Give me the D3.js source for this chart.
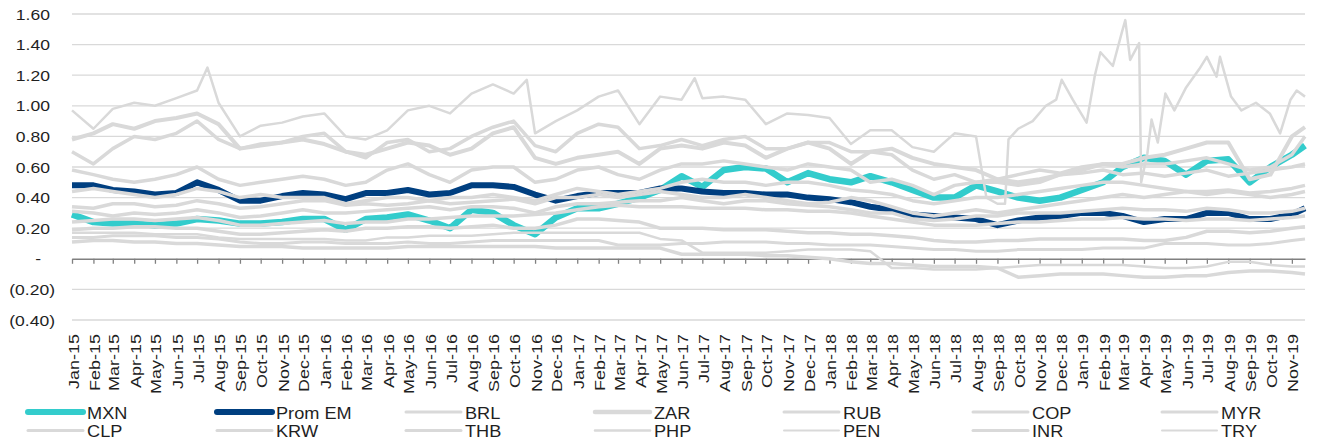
<!DOCTYPE html>
<html>
<head>
<meta charset="utf-8">
<script src="https://cdn.jsdelivr.net/npm/d3@7"></script>
<style>
  body { margin: 0; background: #fff; }
  svg { display: block; }
  text { font-family: "Liberation Sans", Arial, sans-serif; fill: #1f1f1f; }
</style>
</head>
<body>
<div id="chart"></div>
<script>
// month points (first of each month) + last observation
var months = [
  "2015-01-01","2015-02-01","2015-03-01","2015-04-01","2015-05-01","2015-06-01","2015-07-01","2015-08-01","2015-09-01","2015-10-01","2015-11-01","2015-12-01",
  "2016-01-01","2016-02-01","2016-03-01","2016-04-01","2016-05-01","2016-06-01","2016-07-01","2016-08-01","2016-09-01","2016-10-01","2016-11-01","2016-12-01",
  "2017-01-01","2017-02-01","2017-03-01","2017-04-01","2017-05-01","2017-06-01","2017-07-01","2017-08-01","2017-09-01","2017-10-01","2017-11-01","2017-12-01",
  "2018-01-01","2018-02-01","2018-03-01","2018-04-01","2018-05-01","2018-06-01","2018-07-01","2018-08-01","2018-09-01","2018-10-01","2018-11-01","2018-12-01",
  "2019-01-01","2019-02-01","2019-03-01","2019-04-01","2019-05-01","2019-06-01","2019-07-01","2019-08-01","2019-09-01","2019-10-01","2019-11-01","2019-11-20"
];

var mxn = [
  0.29,0.24,0.23,0.23,0.22,0.23,0.26,0.25,0.23,0.23,0.24,0.26,
  0.26,0.19,0.26,0.27,0.29,0.25,0.20,0.32,0.30,0.22,0.16,0.27,
  0.33,0.33,0.36,0.40,0.45,0.54,0.47,0.58,0.60,0.59,0.50,0.56,
  0.52,0.50,0.54,0.50,0.45,0.40,0.40,0.48,0.44,0.40,0.38,0.40,
  0.45,0.50,0.60,0.66,0.64,0.55,0.64,0.65,0.50,0.60,0.68,0.74
];
var promEM = [
  0.48,0.48,0.45,0.44,0.42,0.43,0.50,0.45,0.38,0.38,0.41,0.43,
  0.42,0.39,0.43,0.43,0.45,0.42,0.43,0.48,0.48,0.47,0.42,0.38,
  0.41,0.43,0.43,0.43,0.46,0.46,0.44,0.43,0.43,0.42,0.42,0.40,
  0.39,0.37,0.34,0.32,0.29,0.28,0.27,0.26,0.22,0.25,0.27,0.28,
  0.30,0.30,0.28,0.24,0.26,0.26,0.30,0.30,0.26,0.26,0.29,0.33
];
var brl = [
  0.58,0.55,0.52,0.50,0.52,0.55,0.60,0.52,0.48,0.50,0.52,0.54,
  0.52,0.48,0.50,0.58,0.62,0.55,0.50,0.58,0.60,0.60,0.50,0.52,
  0.58,0.60,0.55,0.52,0.58,0.62,0.62,0.64,0.62,0.60,0.58,0.62,
  0.60,0.58,0.50,0.52,0.48,0.42,0.48,0.50,0.50,0.48,0.50,0.55,
  0.56,0.58,0.55,0.56,0.54,0.56,0.58,0.54,0.56,0.58,0.60,0.62
];
var zar = [
  0.78,0.82,0.88,0.85,0.90,0.92,0.95,0.88,0.72,0.74,0.76,0.78,
  0.75,0.70,0.68,0.72,0.76,0.74,0.68,0.72,0.82,0.86,0.66,0.62,
  0.66,0.68,0.70,0.62,0.72,0.74,0.72,0.76,0.74,0.66,0.72,0.76,
  0.72,0.62,0.70,0.72,0.66,0.62,0.60,0.58,0.52,0.50,0.52,0.55,
  0.58,0.62,0.62,0.66,0.68,0.72,0.76,0.76,0.52,0.55,0.80,0.86
];
var rub = [
  0.70,0.62,0.72,0.80,0.78,0.82,0.90,0.78,0.72,0.75,0.76,0.80,
  0.82,0.70,0.66,0.76,0.78,0.70,0.72,0.80,0.86,0.90,0.74,0.70,
  0.82,0.88,0.86,0.72,0.74,0.78,0.74,0.78,0.80,0.72,0.72,0.76,
  0.76,0.70,0.70,0.68,0.58,0.52,0.55,0.50,0.52,0.55,0.58,0.56,
  0.60,0.62,0.60,0.62,0.62,0.64,0.66,0.62,0.58,0.60,0.68,0.80
];
var cop = [
  0.44,0.46,0.44,0.42,0.40,0.42,0.46,0.44,0.40,0.42,0.40,0.40,
  0.40,0.36,0.38,0.40,0.40,0.38,0.40,0.40,0.42,0.40,0.38,0.42,
  0.46,0.44,0.42,0.44,0.46,0.50,0.52,0.50,0.50,0.48,0.50,0.50,
  0.48,0.45,0.44,0.42,0.38,0.36,0.38,0.40,0.40,0.42,0.44,0.46,
  0.48,0.50,0.50,0.48,0.46,0.44,0.44,0.45,0.43,0.44,0.46,0.48
];
var myr = [
  0.31,0.30,0.28,0.30,0.29,0.30,0.32,0.30,0.27,0.28,0.30,0.32,
  0.30,0.30,0.31,0.32,0.33,0.34,0.32,0.34,0.34,0.33,0.30,0.34,
  0.36,0.36,0.37,0.38,0.38,0.40,0.38,0.36,0.38,0.38,0.36,0.35,
  0.34,0.32,0.30,0.30,0.26,0.25,0.26,0.28,0.28,0.30,0.30,0.30,
  0.31,0.32,0.33,0.32,0.32,0.31,0.33,0.32,0.30,0.30,0.31,0.33
];
var clp = [
  0.34,0.33,0.36,0.36,0.34,0.35,0.38,0.36,0.33,0.34,0.36,0.38,
  0.38,0.35,0.36,0.35,0.36,0.38,0.36,0.37,0.38,0.39,0.36,0.40,
  0.40,0.42,0.40,0.42,0.44,0.42,0.40,0.40,0.42,0.40,0.38,0.36,
  0.37,0.40,0.38,0.34,0.30,0.28,0.30,0.32,0.30,0.32,0.34,0.36,
  0.38,0.40,0.42,0.40,0.42,0.44,0.42,0.44,0.42,0.40,0.42,0.44
];
var krw = [
  0.24,0.25,0.26,0.26,0.25,0.26,0.27,0.25,0.22,0.22,0.23,0.24,
  0.25,0.23,0.24,0.24,0.26,0.26,0.27,0.28,0.28,0.28,0.29,0.30,
  0.32,0.34,0.35,0.34,0.34,0.34,0.33,0.33,0.33,0.32,0.32,0.31,
  0.31,0.30,0.28,0.26,0.24,0.22,0.22,0.22,0.23,0.24,0.24,0.25,
  0.26,0.26,0.27,0.26,0.26,0.25,0.26,0.26,0.25,0.26,0.27,0.28
];
var thb = [
  0.19,0.20,0.20,0.21,0.21,0.20,0.20,0.18,0.16,0.16,0.17,0.18,
  0.19,0.18,0.20,0.20,0.21,0.21,0.20,0.21,0.22,0.20,0.20,0.22,
  0.26,0.26,0.25,0.24,0.20,0.20,0.20,0.19,0.19,0.19,0.18,0.17,
  0.17,0.16,0.16,0.15,0.14,0.12,0.11,0.11,0.12,0.12,0.13,0.13,
  0.13,0.13,0.13,0.12,0.12,0.14,0.18,0.18,0.17,0.18,0.20,0.21
];
var php = [
  0.14,0.14,0.15,0.15,0.15,0.14,0.14,0.13,0.11,0.10,0.10,0.11,
  0.11,0.10,0.10,0.10,0.11,0.10,0.10,0.11,0.12,0.12,0.12,0.12,
  0.12,0.12,0.09,0.09,0.09,0.10,0.10,0.11,0.11,0.11,0.10,0.10,
  0.09,0.09,0.09,0.08,0.07,0.06,0.06,0.05,0.05,0.06,0.06,0.06,
  0.06,0.07,0.07,0.07,0.10,0.10,0.10,0.09,0.09,0.10,0.12,0.13
];
var pen = [
  0.17,0.17,0.17,0.17,0.16,0.16,0.16,0.14,0.13,0.13,0.13,0.13,
  0.13,0.12,0.12,0.14,0.14,0.15,0.15,0.15,0.16,0.17,0.17,0.17,
  0.17,0.17,0.17,0.17,0.13,0.12,0.04,0.04,0.04,0.04,0.05,0.06,
  0.06,0.06,0.05,-0.06,-0.06,-0.07,-0.07,-0.07,-0.06,-0.05,-0.04,-0.04,
  -0.04,-0.04,-0.04,-0.05,-0.06,-0.06,-0.05,-0.02,-0.02,-0.04,-0.05,-0.05
];
var inr = [
  0.11,0.12,0.12,0.11,0.11,0.10,0.10,0.09,0.08,0.08,0.08,0.07,
  0.07,0.07,0.07,0.07,0.08,0.08,0.08,0.08,0.08,0.08,0.08,0.07,
  0.07,0.07,0.07,0.07,0.07,0.03,0.03,0.03,0.03,0.02,0.02,0.01,
  0.00,-0.02,-0.03,-0.03,-0.04,-0.05,-0.05,-0.05,-0.06,-0.12,-0.11,-0.10,
  -0.10,-0.10,-0.11,-0.12,-0.12,-0.11,-0.11,-0.09,-0.08,-0.08,-0.09,-0.10
];

// TRY has its own, denser set of reading dates
var tryDates = [
  "2015-01-01","2015-02-01","2015-03-01","2015-04-01","2015-05-01","2015-06-01","2015-07-01","2015-07-16","2015-08-01","2015-09-01","2015-10-01","2015-11-01","2015-12-01",
  "2016-01-01","2016-02-01","2016-03-01","2016-04-01","2016-05-01","2016-06-01","2016-07-01","2016-08-01","2016-09-01","2016-10-01","2016-10-20","2016-11-01","2016-12-01",
  "2017-01-01","2017-02-01","2017-03-01","2017-04-01","2017-05-01","2017-06-01","2017-06-20","2017-07-01","2017-08-01","2017-09-01","2017-10-01","2017-11-01","2017-12-01",
  "2018-01-01","2018-02-01","2018-03-01","2018-04-01","2018-05-01","2018-06-01","2018-07-01","2018-08-01","2018-08-16","2018-09-01","2018-09-12","2018-09-17",
  "2018-10-01","2018-10-22","2018-11-10","2018-11-25","2018-12-03","2018-12-19",
  "2019-01-08","2019-01-20","2019-01-28","2019-02-15","2019-02-28","2019-03-05","2019-03-12","2019-03-25","2019-03-28",
  "2019-04-06","2019-04-12","2019-04-21","2019-05-02","2019-05-15","2019-06-01","2019-06-20","2019-07-01","2019-07-15","2019-07-20",
  "2019-08-05","2019-08-20","2019-09-10","2019-09-30","2019-10-15","2019-10-30","2019-11-08","2019-11-20"
];
var tryValues = [
  0.97,0.85,0.98,1.02,1.00,1.05,1.10,1.25,1.02,0.80,0.87,0.89,0.93,
  0.95,0.80,0.78,0.84,0.97,1.00,0.95,1.08,1.14,1.08,1.17,0.82,0.90,
  0.97,1.06,1.10,0.88,1.06,1.04,1.18,1.05,1.06,1.04,0.88,0.95,0.94,
  0.92,0.75,0.84,0.84,0.73,0.70,0.82,0.80,0.40,0.36,0.36,0.78,
  0.85,0.90,1.00,1.04,1.17,1.04,
  0.89,1.20,1.35,1.26,1.48,1.56,1.30,1.41,0.50,
  0.69,0.91,0.76,1.08,0.97,1.12,1.24,1.32,1.19,1.32,
  1.06,0.97,1.02,0.95,0.82,1.04,1.10,1.06
];

var yTicks = [1.6, 1.4, 1.2, 1.0, 0.8, 0.6, 0.4, 0.2, 0, -0.2, -0.4];

var grey = "#d9d9d9";
var series = [
  {name: "MXN",     dates: months,   values: mxn,       color: "#33cccc", width: 6.5, legendWidth: 6},
  {name: "Prom EM", dates: months,   values: promEM,    color: "#003f80", width: 6,   legendWidth: 6},
  {name: "BRL",     dates: months,   values: brl,       color: grey, width: 3.5, legendWidth: 3},
  {name: "ZAR",     dates: months,   values: zar,       color: grey, width: 4,   legendWidth: 4.5},
  {name: "RUB",     dates: months,   values: rub,       color: grey, width: 3.5, legendWidth: 3},
  {name: "COP",     dates: months,   values: cop,       color: grey, width: 3.5, legendWidth: 3},
  {name: "MYR",     dates: months,   values: myr,       color: grey, width: 3.5, legendWidth: 3},
  {name: "CLP",     dates: months,   values: clp,       color: grey, width: 3.5, legendWidth: 3},
  {name: "KRW",     dates: months,   values: krw,       color: grey, width: 3.5, legendWidth: 3},
  {name: "THB",     dates: months,   values: thb,       color: grey, width: 3.5, legendWidth: 3},
  {name: "PHP",     dates: months,   values: php,       color: grey, width: 3,   legendWidth: 2.5},
  {name: "PEN",     dates: months,   values: pen,       color: grey, width: 2.5, legendWidth: 2},
  {name: "INR",     dates: months,   values: inr,       color: grey, width: 3.5, legendWidth: 3},
  {name: "TRY",     dates: tryDates, values: tryValues, color: grey, width: 2.5, legendWidth: 2}
];

var W = 1317, H = 445;
var plotLeft = 72, plotRight = 1305, plotTop = 14, plotBottom = 320;

var parse = d3.timeParse("%Y-%m-%d");

var svg = d3.select("#chart").append("svg")
  .attr("width", W)
  .attr("height", H);

var x = d3.scaleTime()
  .domain([parse("2015-01-01"), parse("2019-11-20")])
  .range([plotLeft, plotRight]);

var y = d3.scaleLinear()
  .domain([-0.4, 1.6])
  .range([plotBottom, plotTop]);

// gridlines
svg.append("g")
  .selectAll("line")
  .data(yTicks.filter(function(d) { return d !== 0; }))
  .enter().append("line")
    .attr("x1", plotLeft).attr("x2", plotRight)
    .attr("y1", function(d) { return y(d); })
    .attr("y2", function(d) { return y(d); })
    .attr("stroke", "#d9d9d9")
    .attr("stroke-width", 1.3);

// y labels, accounting style
function fmt(v) {
  if (v === 0) return "-";
  if (v < 0) return "(" + (-v).toFixed(2) + ")";
  return v.toFixed(2);
}
svg.append("g")
  .selectAll("text")
  .data(yTicks)
  .enter().append("text")
    .attr("text-anchor", "end")
    .attr("font-size", 15)
    .attr("transform", function(d) {
      var xe = d === 0 ? 41 : (d < 0 ? 55 : 50);
      return "translate(" + xe + "," + (y(d) + 5.5) + ") scale(1.17,1)";
    })
    .text(fmt);

// x axis at zero
var monthTicks = d3.timeMonth.range(parse("2015-01-01"), parse("2019-12-01"));
svg.append("g")
  .attr("transform", "translate(0," + y(0) + ")")
  .call(d3.axisBottom(x).tickValues(monthTicks).tickSize(5).tickSizeOuter(0).tickFormat(""))
  .call(function(g) {
    g.select(".domain").attr("stroke", "#808080").attr("stroke-width", 1.6);
    g.selectAll(".tick line").attr("stroke", "#808080").attr("stroke-width", 1.3);
  });

var monthFmt = d3.timeFormat("%b-%y");
svg.append("g")
  .selectAll("text")
  .data(monthTicks)
  .enter().append("text")
    .attr("text-anchor", "end")
    .attr("font-size", 14.5)
    .attr("transform", function(d) {
      return "translate(" + (x(d) + 6.5) + ",334) rotate(-90) scale(1.24,1)";
    })
    .text(function(d) { return monthFmt(d); });

// lines
var line = d3.line()
  .x(function(d) { return x(d[0]); })
  .y(function(d) { return y(d[1]); });

svg.append("g")
  .selectAll("path")
  .data(series)
  .enter().append("path")
    .attr("fill", "none")
    .attr("stroke", function(d) { return d.color; })
    .attr("stroke-width", function(d) { return d.width; })
    .attr("stroke-linejoin", "round")
    .attr("d", function(s) {
      return line(s.values.map(function(v, i) { return [parse(s.dates[i]), v]; }));
    });

// legend, 7 per row
var leg = svg.append("g")
  .selectAll("g")
  .data(series)
  .enter().append("g")
    .attr("transform", function(d, i) {
      var col = i % 7, row = Math.floor(i / 7);
      return "translate(" + (28 + col * 189) + "," + (row === 0 ? 412 : 430.5) + ")";
    });

leg.append("line")
  .attr("x1", 0).attr("x2", 55)
  .attr("stroke", function(d) { return d.color; })
  .attr("stroke-width", function(d) { return d.legendWidth; })
  .attr("stroke-linecap", "round");

leg.append("text")
  .attr("font-size", 17)
  .attr("transform", "translate(59,6.5) scale(1.07,1)")
  .text(function(d) { return d.name; });
</script>
</body>
</html>
